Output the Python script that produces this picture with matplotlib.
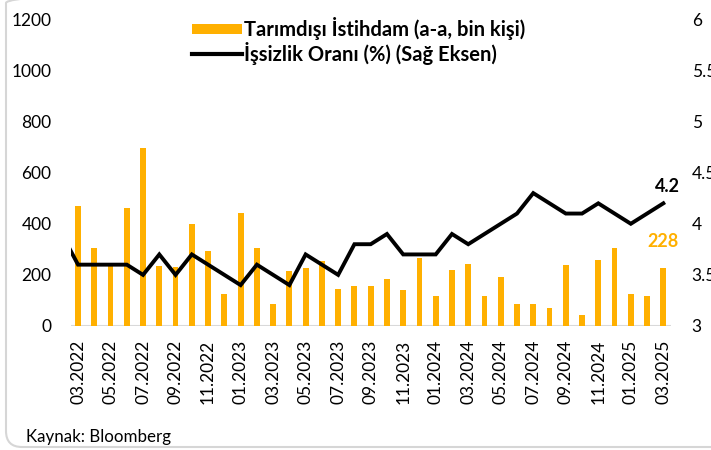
import matplotlib
matplotlib.use("Agg")
import matplotlib.pyplot as plt
import numpy as np
from matplotlib.patches import FancyBboxPatch, Patch
from matplotlib.lines import Line2D
from matplotlib.transforms import IdentityTransform

plt.rcParams['font.family'] = ['Lato', 'DejaVu Sans']

# Months (02.2022 only carries the line value that is clipped at the left edge)
months = ["02.2022",
          "03.2022", "04.2022", "05.2022", "06.2022", "07.2022", "08.2022", "09.2022", "10.2022",
          "11.2022", "12.2022", "01.2023", "02.2023", "03.2023", "04.2023", "05.2023", "06.2023",
          "07.2023", "08.2023", "09.2023", "10.2023", "11.2023", "12.2023", "01.2024", "02.2024",
          "03.2024", "04.2024", "05.2024", "06.2024", "07.2024", "08.2024", "09.2024", "10.2024",
          "11.2024", "12.2024", "01.2025", "02.2025", "03.2025"]

nfp = [np.nan,
       470, 305, 240, 460, 695, 236, 230, 400,
       295, 125, 442, 305, 85, 214, 226, 254,
       146, 156, 158, 185, 141, 267, 119, 220,
       244, 117, 192, 86, 86, 70, 239, 43,
       258, 305, 124, 116, 228]

unemp = [3.9,
         3.6, 3.6, 3.6, 3.6, 3.5, 3.7, 3.5, 3.7,
         3.6, 3.5, 3.4, 3.6, 3.5, 3.4, 3.7, 3.6,
         3.5, 3.8, 3.8, 3.9, 3.7, 3.7, 3.7, 3.9,
         3.8, 3.9, 4.0, 4.1, 4.3, 4.2, 4.1, 4.1,
         4.2, 4.1, 4.0, 4.1, 4.2]

bar_label = "Tarımdışı İstihdam (a-a, bin kişi)"
line_label = "İşsizlik Oranı (%) (Sağ Eksen)"
source = "Kaynak: Bloomberg"

bar_color = "#FFB000"

fig = plt.figure(figsize=(7.11, 4.5), dpi=100)
ax = fig.add_axes([0.0999, 0.2756, 0.9437 - 0.0999, 0.957 - 0.2756])
ax2 = ax.twinx()

x = np.arange(len(months))
ax.bar(x, nfp, width=0.36, color=bar_color, zorder=2)
ax.axhline(0, color="#d9d9d9", lw=1.5, zorder=1)
ax2.plot(x, unemp, color="black", lw=2.8, solid_joinstyle="miter", zorder=3)

ax.set_xlim(0.57, 37.47)
ax.set_ylim(0, 1200)
ax2.set_ylim(3, 6)
ax.set_yticks(np.arange(0, 1201, 200))
ax2.set_yticks([3, 3.5, 4, 4.5, 5, 5.5, 6])
ax2.set_yticklabels(["3", "3.5", "4", "4.5", "5", "5.5", "6"])

ticks = x[1::2]
ax.set_xticks(ticks)
ax.set_xticklabels([months[i] for i in ticks], rotation=90, va="top", ha="center")

for a in (ax, ax2):
    for s in a.spines.values():
        s.set_visible(False)
ax.tick_params(axis="both", length=0, labelsize=12.5, colors="black")
ax.tick_params(axis="y", pad=14)
ax.tick_params(axis="x", pad=10)
ax2.tick_params(axis="y", length=0, labelsize=12.5, pad=15)

# annotations
ax2.annotate(f"{unemp[-1]:.1f}", xy=(x[-1], unemp[-1]), xytext=(3, 12),
             textcoords="offset points", ha="center", va="center",
             fontsize=13, fontweight="bold", color="black")
ax.annotate(f"{nfp[-1]:.0f}", xy=(x[-1], nfp[-1]), xytext=(0, 19),
            textcoords="offset points", ha="center", va="center",
            fontsize=13, fontweight="bold", color=bar_color)

# legend
handles = [Patch(facecolor=bar_color, edgecolor="none"),
           Line2D([0], [0], color="black", lw=3)]
fig.legend(handles, [bar_label, line_label], loc="upper left",
           bbox_to_anchor=(0.270, 0.962), frameon=False, prop={"size": 14.5, "weight": "bold"},
           handlelength=2.5, handleheight=0.45, handletextpad=0.1, labelspacing=0.08,
           borderaxespad=0, borderpad=0)

fig.text(26 / 711, 1 - 437 / 450, source, fontsize=12.2, ha="left", va="center")

border = FancyBboxPatch((6, 3), 760, 460, boxstyle="round,pad=0,rounding_size=16",
                        transform=IdentityTransform(), fill=False, edgecolor="#d6d6d6",
                        lw=1.5, zorder=0)
fig.patches.append(border)

fig.savefig("out.png", dpi=100)
